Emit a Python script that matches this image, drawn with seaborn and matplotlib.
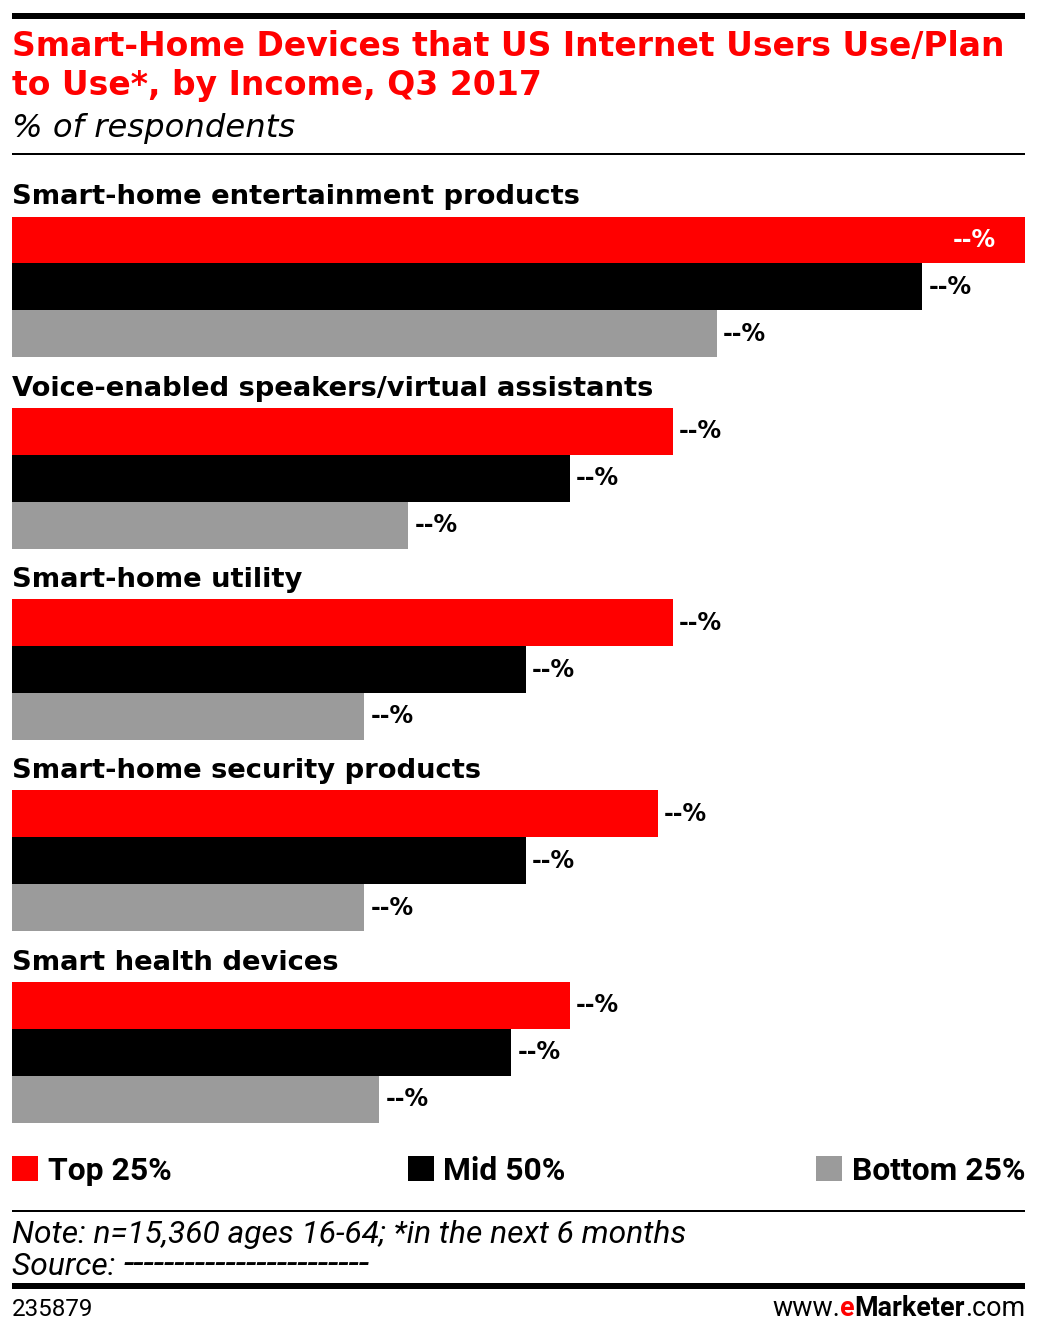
import pandas as pd
import matplotlib.pyplot as plt
import seaborn as sns
from matplotlib.patches import Rectangle

sns.set_style('white')
plt.rcParams['font.family'] = ['DejaVu Sans']
plt.rcParams['text.color'] = 'black'

categories = ['Smart-home entertainment products',
              'Voice-enabled speakers/virtual assistants',
              'Smart-home utility',
              'Smart-home security products',
              'Smart health devices']
groups = ['Top 25%', 'Mid 50%', 'Bottom 25%']
top25 = [69, 45, 45, 44, 38]
mid50 = [62, 38, 35, 35, 34]
bottom25 = [48, 27, 24, 24, 25]
colors = ['#ff0000', '#000000', '#9b9b9b']

df = pd.DataFrame({
    'category': categories * 3,
    'group': [g for g in groups for _ in categories],
    'value': top25 + mid50 + bottom25,
})

W, H = 1038, 1335
NARROW = ['Roboto', 'DejaVu Sans']


def fx(x):
    return x / W


def fy(y):
    return 1 - y / H


fig = plt.figure(figsize=(W / 100, H / 100), dpi=100)
renderer = fig.canvas.get_renderer()


def fit(t, width_px):
    # scale font so the text spans the width measured on the reference
    w = t.get_window_extent(renderer=renderer).width
    t.set_fontsize(t.get_fontsize() * width_px / w)
    return t


ax = fig.add_axes([fx(12), fy(1122.6), 1013 / W, (1122.6 - 216.5) / H])
sns.barplot(data=df, y='category', x='value', hue='group', hue_order=groups,
            palette=colors, orient='h', width=0.736, gap=0, saturation=1,
            linewidth=0, legend=False, ax=ax)
ax.set_xlim(0, 69)
ax.set_ylim(4.368, -0.368)
ax.axis('off')

# category labels above each group
first = ax.text(0, -0.431, categories[0], ha='left', va='baseline', fontsize=19,
                fontweight='bold', clip_on=False)
fit(first, 570)
for i, cat in enumerate(categories[1:], start=1):
    ax.text(0, i - 0.431, cat, ha='left', va='baseline', fontsize=first.get_fontsize(),
            fontweight='bold', clip_on=False)

# value labels (values hidden in source)
for k, cont in enumerate(ax.containers):
    for patch in cont.patches:
        end = patch.get_x() + patch.get_width()
        yc = patch.get_y() + patch.get_height() / 2
        if end >= ax.get_xlim()[1] - 0.5:
            ax.annotate('--%', (end, yc), xytext=(-21, 0), textcoords='offset points',
                        ha='right', va='center', fontsize=17, fontweight='bold', color='white')
        else:
            ax.annotate('--%', (end, yc), xytext=(4.5, 0), textcoords='offset points',
                        ha='left', va='center', fontsize=17, fontweight='bold', color='black')

# rules
for y0, h in [(19, 6), (155, 1.6), (1212, 1.6), (1289, 6)]:
    fig.patches.append(Rectangle((fx(12), fy(y0)), 1013 / W, h / H, transform=fig.transFigure,
                                 color='black', lw=0))

# title block
t1 = fig.text(fx(12), fy(56), 'Smart-Home Devices that US Internet Users Use/Plan', fontsize=22.5,
              fontweight='bold', color='#ff0000', va='baseline')
fit(t1, 993)
fig.text(fx(12), fy(95), 'to Use*, by Income, Q3 2017', fontsize=t1.get_fontsize(),
         fontweight='bold', color='#ff0000', va='baseline')
fit(fig.text(fx(12), fy(137), '% of respondents', fontsize=21.5, style='italic',
             va='baseline'), 283)

# legend
leg = fit(fig.text(fx(48), fy(1180), groups[0], fontsize=20, fontweight='bold', family=NARROW,
                   va='baseline'), 123)
fs_leg = leg.get_fontsize()
fig.text(fx(443), fy(1180), groups[1], fontsize=fs_leg, fontweight='bold', family=NARROW,
         va='baseline')
tb = fig.text(fx(1025), fy(1180), groups[2], fontsize=fs_leg, fontweight='bold', family=NARROW,
              ha='right', va='baseline')
bx = tb.get_window_extent(renderer=renderer).x0 - 36
for x, c in zip([12, 408, bx], colors):
    fig.patches.append(Rectangle((fx(x), fy(1181)), 26 / W, 25 / H, transform=fig.transFigure,
                                 color=c, lw=0))

# notes
note = fit(fig.text(fx(12), fy(1243), 'Note: n=15,360 ages 16-64; *in the next 6 months',
                    fontsize=20, style='italic', family=NARROW, va='baseline'), 675)
src = fig.text(fx(12), fy(1275), 'Source: ', fontsize=note.get_fontsize(),
               style='italic', family=NARROW, va='baseline')
sx = src.get_window_extent(renderer=renderer).x1
# the dashed placeholder stretches to about x=370 in the reference
fit(fig.text(sx / W, fy(1275), '-' * 24, fontsize=note.get_fontsize(),
             style='italic', family=NARROW, va='baseline'), 370 - sx)

# footer
fit(fig.text(fx(12), fy(1316), '235879', fontsize=18, family=NARROW, va='baseline'), 81)
pieces = [('.com', 'normal', 'black'), ('Marketer', 'bold', 'black'),
          ('e', 'bold', '#ff0000'), ('www.', 'normal', 'black')]
total = 0
for txt, wt, col in pieces:
    t = fig.text(0, 0, txt, fontsize=17, fontweight=wt, family=NARROW)
    total += t.get_window_extent(renderer=renderer).width
    t.remove()
fs_foot = 17 * 252 / total
right = fx(1025)
for txt, wt, col in pieces:
    t = fig.text(right, fy(1316), txt, fontsize=fs_foot, fontweight=wt, family=NARROW,
                 color=col, ha='right', va='baseline')
    right = t.get_window_extent(renderer=renderer).x0 / fig.bbox.width

fig.savefig('out.png', dpi=100)
